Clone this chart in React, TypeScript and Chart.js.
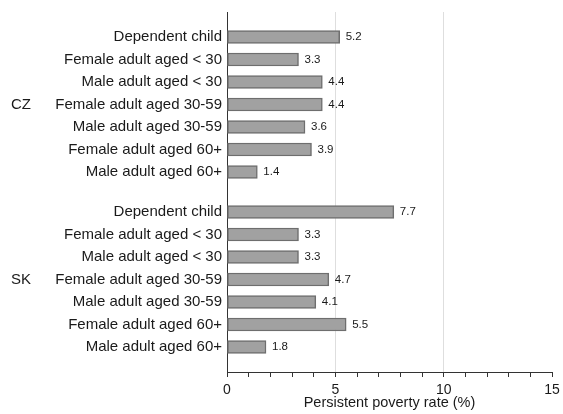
import { useEffect, useRef } from "react";
import { Chart, registerables } from "chart.js";

Chart.register(...registerables);

// ---- data ----
const categories = [
  "Dependent child",
  "Female adult aged < 30",
  "Male adult aged < 30",
  "Female adult aged 30-59",
  "Male adult aged 30-59",
  "Female adult aged 60+",
  "Male adult aged 60+",
];
const groups = ["CZ", "SK"];
const czValues = [5.2, 3.3, 4.4, 4.4, 3.6, 3.9, 1.4];
const skValues = [7.7, 3.3, 3.3, 4.7, 4.1, 5.5, 1.8];
const xTickValues = [0, 5, 10, 15];
const axisTitle = "Persistent poverty rate (%)";

// ---- layout helpers (row units on the y scale) ----
const GROUP_GAP = 40 / 22.5; // distance between last row of one group and first of next
const EDGE = 25 / 22.5;
const seriesByGroup = [czValues, skValues];

type Row = { group: string; label: string; value: number; pos: number };
const rows: Row[] = groups.flatMap((g, gi) =>
  categories.map((c, ci) => ({
    group: g,
    label: c,
    value: seriesByGroup[gi][ci],
    pos: gi * (categories.length - 1 + GROUP_GAP) + ci,
  }))
);

const FONT = '"Liberation Sans", Arial, Helvetica, sans-serif';
const TEXT = "#1a1a1a";

const extraLabels = {
  id: "extraLabels",
  afterDatasetsDraw(chart: any) {
    const ctx = chart.ctx;
    const meta = chart.getDatasetMeta(0);
    ctx.save();
    ctx.fillStyle = TEXT;
    ctx.textBaseline = "middle";
    ctx.textAlign = "left";
    ctx.font = `11.5px ${FONT}`;
    meta.data.forEach((el: any, i: number) => {
      ctx.fillText(rows[i].value.toFixed(1), el.x + 6, el.y);
    });
    const ys = chart.scales.y;
    ctx.font = `15px ${FONT}`;
    groups.forEach((g) => {
      const gr = rows.filter((r) => r.group === g);
      const mid = (gr[0].pos + gr[gr.length - 1].pos) / 2;
      ctx.fillText(g, 11, ys.getPixelForValue(mid));
    });
    ctx.restore();
  },
};

export default function App() {
  const ref = useRef<HTMLCanvasElement>(null);

  useEffect(() => {
    if (!ref.current) return;
    const chart = new Chart(ref.current, {
      type: "bar",
      data: {
        datasets: [
          {
            data: rows.map((r) => ({ x: r.value, y: r.pos })) as any,
            backgroundColor: "#a1a1a1",
            borderColor: "#6e6e6e",
            borderWidth: 1.5,
            borderSkipped: false,
            barThickness: 13,
          },
        ],
      },
      options: {
        indexAxis: "y",
        animation: false,
        responsive: true,
        maintainAspectRatio: false,
        layout: { padding: { top: 12, right: 11, bottom: 0, left: 0 } },
        plugins: {
          legend: { display: false },
          tooltip: { enabled: false },
        },
        scales: {
          x: {
            type: "linear",
            min: xTickValues[0],
            max: xTickValues[xTickValues.length - 1],
            ticks: {
              stepSize: 1,
              autoSkip: false,
              maxRotation: 0,
              padding: 5,
              color: TEXT,
              font: { family: FONT, size: 14 },
              callback: (v: any) => (xTickValues.includes(Number(v)) ? String(v) : ""),
            },
            grid: {
              color: (c: any) => {
                const v = c.tick ? c.tick.value : null;
                return v !== null && xTickValues.includes(v) && v !== xTickValues[0] && v !== xTickValues[xTickValues.length - 1]
                  ? "#dedede"
                  : "rgba(0,0,0,0)";
              },
              tickColor: "#333",
              tickLength: 5,
              lineWidth: 1,
            },
            border: { display: true, color: "#333", width: 1 },
            title: {
              display: true,
              text: axisTitle,
              color: TEXT,
              font: { family: FONT, size: 14.5 },
              padding: { top: 0, bottom: 2 },
            },
            afterFit: (s: any) => {
              s.height = 42;
              s.paddingLeft = 0;
              s.paddingRight = 0;
            },
          },
          y: {
            type: "linear",
            reverse: true,
            offset: false,
            min: -EDGE,
            max: rows[rows.length - 1].pos + EDGE,
            afterBuildTicks: (s: any) => {
              s.ticks = rows.map((r) => ({ value: r.pos }));
            },
            ticks: {
              autoSkip: false,
              padding: 5,
              color: TEXT,
              font: { family: FONT, size: 15 },
              callback: (_v: any, i: number) => rows[i]?.label ?? "",
            },
            grid: { display: false, drawTicks: false, offset: false },
            border: { display: true, color: "#333", width: 1 },
            afterFit: (s: any) => {
              s.width = 227;
              s.paddingTop = 0;
              s.paddingBottom = 0;
            },
          },
        },
      },
      plugins: [extraLabels],
    });
    return () => chart.destroy();
  }, []);

  return (
    <div style={{ position: "absolute", left: 0, top: 0, width: 563, height: 414 }}>
      <canvas ref={ref} />
    </div>
  );
}
